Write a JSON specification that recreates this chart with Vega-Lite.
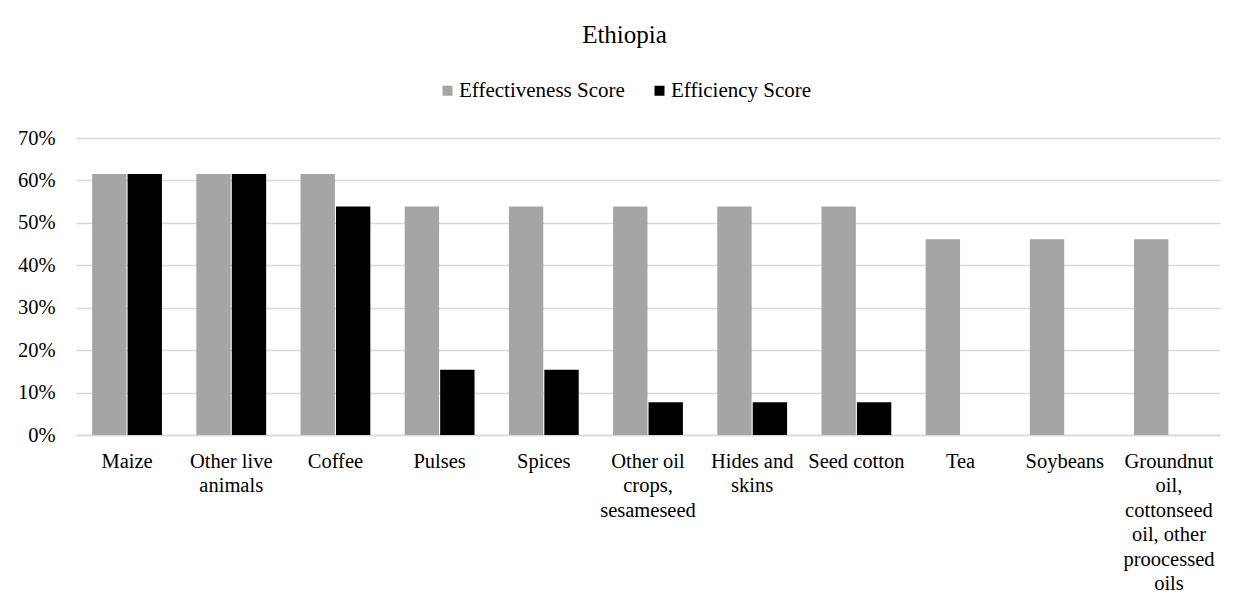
{
  "$schema": "https://vega.github.io/schema/vega-lite/v6.json",
  "width": 1144,
  "height": 297,
  "autosize": {"type": "none"},
  "padding": {"left": 76, "top": 138, "right": 29, "bottom": 178},
  "background": "white",
  "title": {
    "text": "Ethiopia",
    "font": "Liberation Serif",
    "fontSize": 25,
    "fontWeight": "normal",
    "color": "#000000",
    "anchor": "middle",
    "dx": -23.5,
    "baseline": "alphabetic",
    "offset": 12
  },
  "data": {
    "values": [
      {"product": "Maize", "measure": "Effectiveness Score", "value": 0.6154},
      {"product": "Maize", "measure": "Efficiency Score", "value": 0.6154},
      {"product": "Other live|animals", "measure": "Effectiveness Score", "value": 0.6154},
      {"product": "Other live|animals", "measure": "Efficiency Score", "value": 0.6154},
      {"product": "Coffee", "measure": "Effectiveness Score", "value": 0.6154},
      {"product": "Coffee", "measure": "Efficiency Score", "value": 0.5385},
      {"product": "Pulses", "measure": "Effectiveness Score", "value": 0.5385},
      {"product": "Pulses", "measure": "Efficiency Score", "value": 0.1538},
      {"product": "Spices", "measure": "Effectiveness Score", "value": 0.5385},
      {"product": "Spices", "measure": "Efficiency Score", "value": 0.1538},
      {"product": "Other oil|crops,|sesameseed", "measure": "Effectiveness Score", "value": 0.5385},
      {"product": "Other oil|crops,|sesameseed", "measure": "Efficiency Score", "value": 0.0769},
      {"product": "Hides and|skins", "measure": "Effectiveness Score", "value": 0.5385},
      {"product": "Hides and|skins", "measure": "Efficiency Score", "value": 0.0769},
      {"product": "Seed cotton", "measure": "Effectiveness Score", "value": 0.5385},
      {"product": "Seed cotton", "measure": "Efficiency Score", "value": 0.0769},
      {"product": "Tea", "measure": "Effectiveness Score", "value": 0.4615},
      {"product": "Tea", "measure": "Efficiency Score", "value": 0},
      {"product": "Soybeans", "measure": "Effectiveness Score", "value": 0.4615},
      {"product": "Soybeans", "measure": "Efficiency Score", "value": 0},
      {"product": "Groundnut|oil,|cottonseed|oil, other|proocessed|oils", "measure": "Effectiveness Score", "value": 0.4615},
      {"product": "Groundnut|oil,|cottonseed|oil, other|proocessed|oils", "measure": "Efficiency Score", "value": 0}
    ]
  },
  "mark": {"type": "bar"},
  "encoding": {
    "x": {
      "field": "product",
      "type": "nominal",
      "sort": null,
      "title": null,
      "scale": {"paddingInner": 0.33, "paddingOuter": 0.155},
      "axis": {
        "labelAngle": 0,
        "labelExpr": "split(datum.label, '|')",
        "labelLineHeight": 24.5,
        "labelFont": "Liberation Serif",
        "labelFontSize": 20.5,
        "labelColor": "#000000",
        "labelLimit": 300,
        "labelPadding": 16,
        "ticks": false,
        "tickSize": 0,
        "domainColor": "#D9D9D9",
        "domainWidth": 1.5,
        "grid": false
      }
    },
    "xOffset": {
      "field": "measure",
      "type": "nominal",
      "sort": ["Effectiveness Score", "Efficiency Score"],
      "scale": {"paddingInner": 0.03}
    },
    "y": {
      "field": "value",
      "type": "quantitative",
      "title": null,
      "scale": {"domain": [0, 0.7], "nice": false},
      "axis": {
        "format": ".0%",
        "values": [0, 0.1, 0.2, 0.3, 0.4, 0.5, 0.6, 0.7],
        "labelFont": "Liberation Serif",
        "labelFontSize": 20.5,
        "labelColor": "#000000",
        "labelPadding": 21,
        "ticks": false,
        "tickSize": 0,
        "domain": false,
        "gridColor": "#D9D9D9",
        "gridWidth": 1.5
      }
    },
    "color": {
      "field": "measure",
      "type": "nominal",
      "sort": ["Effectiveness Score", "Efficiency Score"],
      "scale": {"range": ["#A5A5A5", "#000000"]},
      "legend": {
        "title": null,
        "orient": "none",
        "direction": "horizontal",
        "legendX": 361,
        "legendY": -58,
        "symbolType": "square",
        "symbolSize": 100,
        "symbolStrokeWidth": 0,
        "symbolOpacity": 1,
        "labelFont": "Liberation Serif",
        "labelFontSize": 21,
        "labelColor": "#000000",
        "labelLimit": 400,
        "labelOffset": 1,
        "columnPadding": 24,
        "padding": 0
      }
    }
  },
  "config": {
    "view": {"stroke": null}
  }
}
